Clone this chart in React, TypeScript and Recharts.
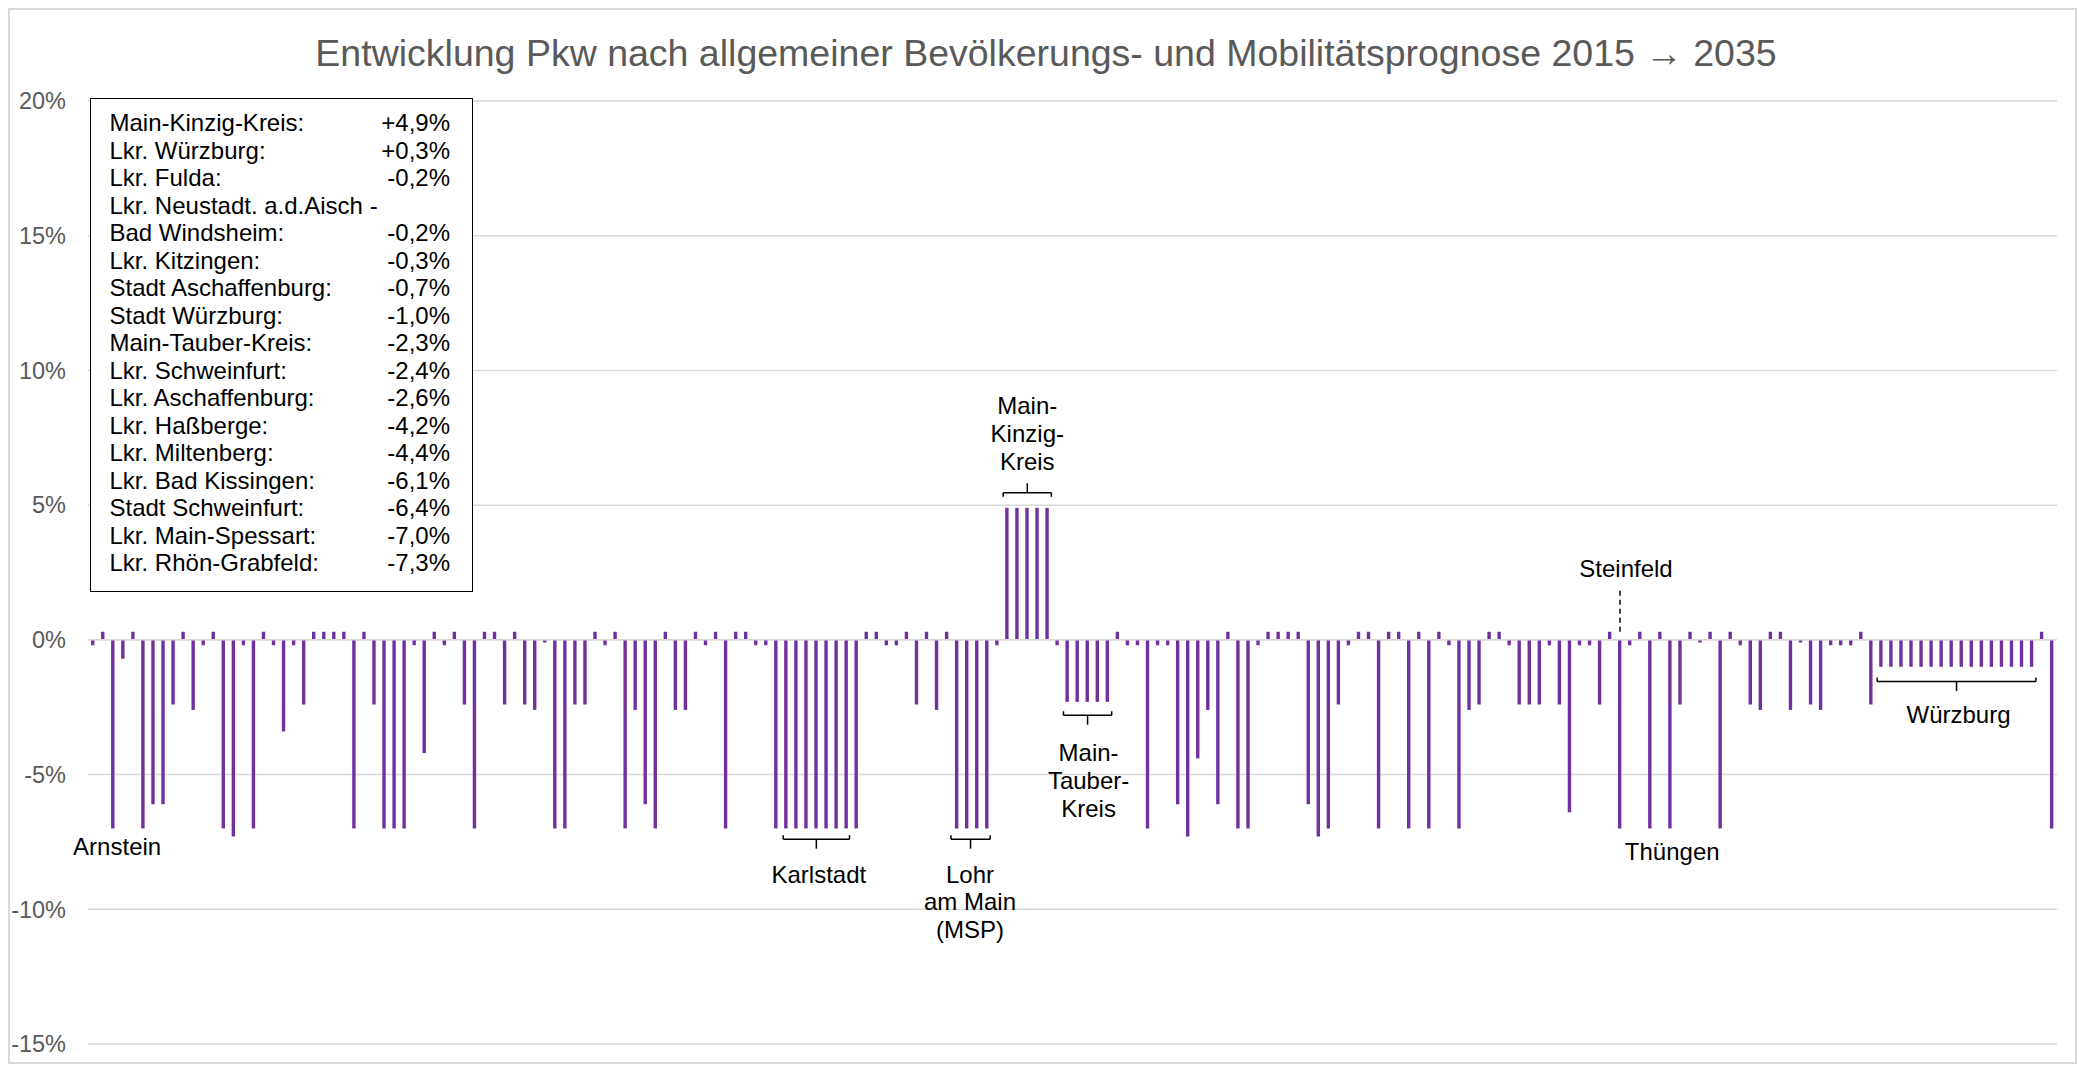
import { BarChart, Bar, XAxis, YAxis, CartesianGrid, ReferenceLine, ReferenceDot } from 'recharts';

const FONT = '"Liberation Sans", Arial, sans-serif';

// Pkw change per municipality (%), left to right
const pkwChange = [
  -0.2, 0.3, -7.0, -0.7, 0.3, -7.0, -6.1, -6.1, -2.4, 0.3, -2.6, -0.2, 0.3, -7.0, -7.3, -0.2, -7.0, 0.3, -0.2, -3.4,
  -0.2, -2.4, 0.3, 0.3, 0.3, 0.3, -7.0, 0.3, -2.4, -7.0, -7.0, -7.0, -0.2, -4.2, 0.3, -0.2, 0.3, -2.4, -7.0, 0.3,
  0.3, -2.4, 0.3, -2.4, -2.6, -0.1, -7.0, -7.0, -2.4, -2.4, 0.3, -0.2, 0.3, -7.0, -2.6, -6.1, -7.0, 0.3, -2.6, -2.6,
  0.3, -0.2, 0.3, -7.0, 0.3, 0.3, -0.2, -0.2, -7.0, -7.0, -7.0, -7.0, -7.0, -7.0, -7.0, -7.0, -7.0, 0.3, 0.3, -0.2,
  -0.2, 0.3, -2.4, 0.3, -2.6, 0.3, -7.0, -7.0, -7.0, -7.0, -0.2, 4.9, 4.9, 4.9, 4.9, 4.9, -0.2, -2.3, -2.3, -2.3,
  -2.3, -2.3, 0.3, -0.2, -0.2, -7.0, -0.2, -0.2, -6.1, -7.3, -4.4, -2.6, -6.1, 0.3, -7.0, -7.0, -0.2, 0.3, 0.3, 0.3,
  0.3, -6.1, -7.3, -7.0, -2.4, -0.2, 0.3, 0.3, -7.0, 0.3, 0.3, -7.0, 0.3, -7.0, 0.3, -0.2, -7.0, -2.6, -2.4, 0.3,
  0.3, -0.2, -2.4, -2.4, -2.4, -0.2, -2.4, -6.4, -0.2, -0.2, -2.4, 0.3, -7.0, -0.2, 0.3, -7.0, 0.3, -7.0, -2.4, 0.3,
  -0.1, 0.3, -7.0, 0.3, -0.2, -2.4, -2.6, 0.3, 0.3, -2.6, -0.1, -2.4, -2.6, -0.2, -0.2, -0.2, 0.3, -2.4, -1.0, -1.0,
  -1.0, -1.0, -1.0, -1.0, -1.0, -1.0, -1.0, -1.0, -1.0, -1.0, -1.0, -1.0, -1.0, -1.0, 0.3, -7.0,
];
const categories = pkwChange.map((_, i) => i);
const yTicks = [-15, -10, -5, 0, 5, 10, 15, 20];

const districtNames = [
  'Main-Kinzig-Kreis:', 'Lkr. Würzburg:', 'Lkr. Fulda:', 'Lkr. Neustadt. a.d.Aisch -\nBad Windsheim:',
  'Lkr. Kitzingen:', 'Stadt Aschaffenburg:', 'Stadt Würzburg:', 'Main-Tauber-Kreis:', 'Lkr. Schweinfurt:',
  'Lkr. Aschaffenburg:', 'Lkr. Haßberge:', 'Lkr. Miltenberg:', 'Lkr. Bad Kissingen:', 'Stadt Schweinfurt:',
  'Lkr. Main-Spessart:', 'Lkr. Rhön-Grabfeld:',
];
const districtChange = [4.9, 0.3, -0.2, -0.2, -0.3, -0.7, -1.0, -2.3, -2.4, -2.6, -4.2, -4.4, -6.1, -6.4, -7.0, -7.3];

// annotations, x in bar index units, y in percent
const notes = [
  { x: 2.4, y: -7.67, lines: ['Arnstein'] },
  { x: 72.25, y: -8.7, lines: ['Karlstadt'] },
  { x: 87.3, y: -8.7, lines: ['Lohr', 'am Main', '(MSP)'] },
  { x: 93, y: 8.69, lines: ['Main-', 'Kinzig-', 'Kreis'] },
  { x: 99.1, y: -4.19, lines: ['Main-', 'Tauber-', 'Kreis'] },
  { x: 152.6, y: 2.66, lines: ['Steinfeld'] },
  { x: 157.2, y: -7.86, lines: ['Thüngen'] },
  { x: 185.7, y: -2.78, lines: ['Würzburg'] },
];
const brackets = [
  { from: 68.7, to: 75.3, mid: 72, y: -7.4, dir: -1 },
  { from: 85.4, to: 89.3, mid: 87.35, y: -7.4, dir: -1 },
  { from: 90.6, to: 95.4, mid: 93, y: 5.46, dir: 1 },
  { from: 96.6, to: 101.4, mid: 99, y: -2.8, dir: -1 },
  { from: 177.6, to: 193.4, mid: 185.5, y: -1.55, dir: -1 },
];

const data = categories.map((idx, i) => ({ idx, value: pkwChange[i] }));

const fmt = (v: number) => `${v > 0 ? '+' : ''}${v.toFixed(1).replace('.', ',')}%`;

const noteShape = (lines: string[]) => (p: any) => (
  <text x={p.cx} y={p.cy} textAnchor="middle" fontSize={24} fill="#000" fontFamily={FONT}>
    {lines.map((l, i) => (
      <tspan key={i} x={p.cx} dy={i === 0 ? '0.35em' : 27.7}>{l}</tspan>
    ))}
  </text>
);

const seg = (key: string, x1: number, y1: number, x2: number, y2: number, dash?: string) => (
  <ReferenceLine
    key={key}
    xAxisId="n"
    segment={[{ x: x1, y: y1 }, { x: x2, y: y2 }]}
    stroke="#000"
    strokeWidth={1.5}
    strokeDasharray={dash}
  />
);

export default function App() {
  const legendRows: { name: string; value: string }[] = [];
  districtNames.forEach((n, i) => {
    const parts = n.split('\n');
    parts.forEach((p, j) => legendRows.push({ name: p, value: j === parts.length - 1 ? fmt(districtChange[i]) : '' }));
  });

  return (
    <div style={{ position: 'relative', width: 2069, height: 1056, fontFamily: FONT, background: '#fff' }}>
      <BarChart width={2069} height={1056} data={data} margin={{ top: 93, right: 20, bottom: 20, left: 0 }}>
        <CartesianGrid xAxisId="c" vertical={false} stroke="#d9d9d9" strokeWidth={1.5} />
        <XAxis xAxisId="c" dataKey="idx" type="category" hide />
        <XAxis xAxisId="n" dataKey="idx" type="number" domain={[-0.5, pkwChange.length - 0.5]} allowDataOverflow hide />
        <YAxis
          domain={[-15, 20]}
          ticks={yTicks}
          tickFormatter={(v) => `${v}%`}
          axisLine={false}
          tickLine={false}
          width={80}
          tickMargin={16}
          tick={{ fill: '#595959', fontSize: 23.5, fontFamily: FONT }}
        />
        <Bar xAxisId="c" dataKey="value" fill="#7030A0" barSize={3.4} isAnimationActive={false} />
        <ReferenceLine xAxisId="c" y={0} stroke="#d9d9d9" strokeWidth={1.5} />
        {brackets.flatMap((b, i) => [
          seg(`bh${i}`, b.from, b.y, b.to, b.y),
          seg(`bl${i}`, b.from, b.y, b.from, b.y - b.dir * 0.15),
          seg(`br${i}`, b.to, b.y, b.to, b.y - b.dir * 0.15),
          seg(`bm${i}`, b.mid, b.y, b.mid, b.y + b.dir * 0.35),
        ])}
        {seg('steinfeld', 152, 0.3, 152, 1.86, '5 4')}
        {notes.map((n, i) => (
          <ReferenceDot key={`n${i}`} xAxisId="n" x={n.x} y={n.y} r={0} shape={noteShape(n.lines)} />
        ))}
      </BarChart>

      <div
        style={{
          position: 'absolute', top: 25, left: 0, width: 2069, paddingLeft: 7, boxSizing: 'border-box',
          textAlign: 'center', fontSize: 37.5, lineHeight: '40px', color: '#595959',
        }}
      >
        Entwicklung Pkw nach allgemeiner Bevölkerungs- und Mobilitätsprognose 2015 → 2035
      </div>

      <div
        style={{
          position: 'absolute', left: 82, top: 90, width: 383, height: 494, boxSizing: 'border-box',
          border: '1.5px solid #000', background: '#fff', padding: '10px 22px 0 18.5px',
          fontSize: 24, lineHeight: '27.5px', color: '#000',
        }}
      >
        {legendRows.map((r, i) => (
          <div key={i} style={{ display: 'flex', justifyContent: 'space-between', whiteSpace: 'nowrap' }}>
            <span>{r.name}</span>
            <span>{r.value}</span>
          </div>
        ))}
      </div>

      <div style={{ position: 'absolute', inset: 0, border: '2px solid #d9d9d9', pointerEvents: 'none' }} />
    </div>
  );
}
